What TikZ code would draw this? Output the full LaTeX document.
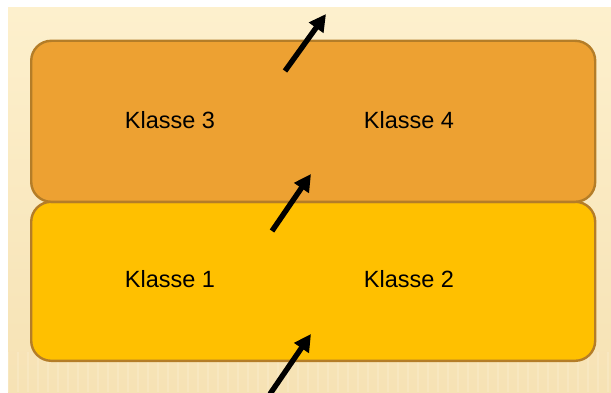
\documentclass[tikz,border=0pt]{standalone}
\usepackage{fontspec}
\setmainfont{Liberation Sans}
\usetikzlibrary{arrows.meta}
\definecolor{bgcream}{HTML}{FDF0CD}
\definecolor{bgcreamdark}{HTML}{F6E2B4}
\definecolor{boxorange}{HTML}{EDA132}
\definecolor{boxyellow}{HTML}{FFC000}
\definecolor{boxedge}{HTML}{B47D28}
\tikzset{
  layerbox/.style={draw=boxedge, line width=2.4pt, rounded corners=20pt, inner sep=0pt},
  klabel/.style={font=\fontsize{23.5}{26}\selectfont, anchor=base, text=black},
  flow/.style={line width=5.4pt, -{Triangle[length=17pt,width=17pt]}, black}
}
\begin{document}
\begin{tikzpicture}[x=1pt,y=1pt]
\useasboundingbox (0,0) rectangle (611,392);
\fill[white] (0,0) rectangle (611,392);
\shade[top color=bgcream, bottom color=bgcreamdark] (8,0) rectangle (611,384);
\foreach \i in {0,...,60} {
  \draw[white, opacity=0.15, line width=2pt] (8+\i*10,0) -- (8+\i*10,40);
}
% boxes
\node[layerbox, fill=boxyellow, minimum width=564pt, minimum height=159pt, anchor=south west] (low) at (30,30) {};
\node[layerbox, fill=boxorange, minimum width=564pt, minimum height=161pt, anchor=south west] (high) at (30,189) {};
% labels
\node[klabel] (k3) at (170,264) {Klasse 3};
\node[klabel] (k4) at (409,264) {Klasse 4};
\node[klabel] (k1) at (170,105) {Klasse 1};
\node[klabel] (k2) at (409,105) {Klasse 2};
% arrows
\coordinate (a1s) at (270,-2);
\coordinate (a1e) at (311,58);
\coordinate (a2s) at (272,161);
\coordinate (a2e) at (311,218);
\coordinate (a3s) at (285,321);
\coordinate (a3e) at (326,378);
\draw[flow] (a1s) -- (a1e);
\draw[flow] (a2s) -- (a2e);
\draw[flow] (a3s) -- (a3e);
\end{tikzpicture}
\end{document}
